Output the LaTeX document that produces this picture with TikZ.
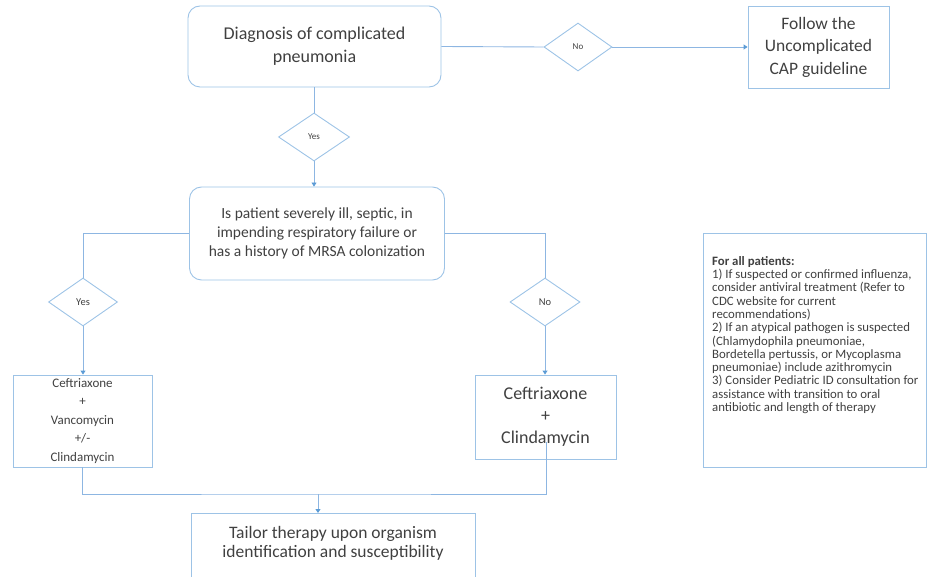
\documentclass[tikz,border=0pt]{standalone}
\usepackage{fontspec}
\setmainfont{Carlito}
\usetikzlibrary{shapes.geometric,arrows.meta}
\definecolor{boxc}{HTML}{9DC3E6}
\definecolor{linec}{HTML}{8DB6E2}
\definecolor{arrc}{HTML}{5B9BD5}
\definecolor{txt}{HTML}{404040}
\tikzset{
  box/.style={draw=boxc, line width=0.9pt, text=txt, align=center, inner sep=0pt},
  rbox/.style={box, rounded corners=12pt},
  dia/.style={diamond, draw=boxc, line width=0.9pt, text=txt, inner sep=0pt},
  conn/.style={draw=linec, line width=0.9pt},
  arr/.style={conn, -{Triangle[width=5pt,length=4pt,fill=arrc,color=arrc]}}
}
\begin{document}
\begin{tikzpicture}[x=1pt,y=-1pt]
\useasboundingbox (0,0) rectangle (928,577);
\clip (0,0) rectangle (928,577);
% nodes
\node[rbox, minimum width=253, minimum height=81, font=\fontsize{18}{23}\selectfont] (diag) at (314.5,46.5) {Diagnosis of complicated\\pneumonia};
\node[dia, minimum width=68, minimum height=48, font=\fontsize{9}{10}\selectfont] (no1) at (578,47) {No};
\node[box, minimum width=141, minimum height=82, font=\fontsize{17.5}{22.5}\selectfont] (follow) at (818.5,47) {Follow the\\Uncomplicated\\CAP guideline};
\node[dia, minimum width=71, minimum height=48, font=\fontsize{9}{10}\selectfont] (yes1) at (314,137) {Yes};
\node[rbox, minimum width=255, minimum height=93, font=\fontsize{15.5}{19}\selectfont] (ill) at (317,233.5) {Is patient severely ill, septic, in\\impending respiratory failure or\\has a history of MRSA colonization};
\node[dia, minimum width=69, minimum height=48, font=\fontsize{10.5}{12}\selectfont] (yes2) at (83,302) {Yes};
\node[dia, minimum width=70, minimum height=48, font=\fontsize{10.5}{12}\selectfont] (no2) at (545,302) {No};
\node[box, minimum width=139, minimum height=92, font=\fontsize{13}{18.5}\selectfont] (vanc) at (82.5,421) {Ceftriaxone\\+\\Vancomycin\\+/-\\Clindamycin};
\node[box, minimum width=141, minimum height=84, font=\fontsize{18}{22}\selectfont] (clin) at (545.5,417) {Ceftriaxone\\+\\Clindamycin};
\node[box, minimum width=284, minimum height=70, anchor=north,
  label={[text=txt, align=center, font=\fontsize{17.5}{19}\selectfont, yshift=5.5pt]center:Tailor therapy upon organism\\identification and susceptibility}] (tailor) at (333,513) {};
\node[box, minimum width=223, minimum height=234, anchor=north west] (notes) at (703,233) {};
\node[text=txt, anchor=north west, align=left, inner sep=0pt, font=\fontsize{12.8}{13.3}\selectfont] (notestext) at (712,256) {\textbf{For all patients:}\\1) If suspected or confirmed influenza,\\consider antiviral treatment (Refer to\\CDC website for current\\recommendations)\\2) If an atypical pathogen is suspected\\(Chlamydophila pneumoniae,\\Bordetella pertussis, or Mycoplasma\\pneumoniae) include azithromycin\\3) Consider Pediatric ID consultation for\\assistance with transition to oral\\antibiotic and length of therapy};
% coordinates
\coordinate (c4) at (546,442);
\coordinate (jn) at (318,494);
% connectors
\draw[conn] (diag.east) -- (no1.west);
\draw[arr] (no1.east) -- (follow.west);
\draw[conn] (diag.south -| yes1.north) -- (yes1.north);
\draw[arr] (yes1.south) -- (yes1.south |- ill.north);
\draw[conn] (ill.west) -| (yes2.north);
\draw[conn] (ill.east) -| (no2.north);
\draw[arr] (yes2.south) -- (yes2.south |- vanc.north);
\draw[arr] (no2.south) -- (no2.south |- clin.north);
\draw[conn] (vanc.south) |- (jn) -| (c4);
\draw[arr] (jn) -- (jn |- tailor.north);
\end{tikzpicture}
\end{document}
